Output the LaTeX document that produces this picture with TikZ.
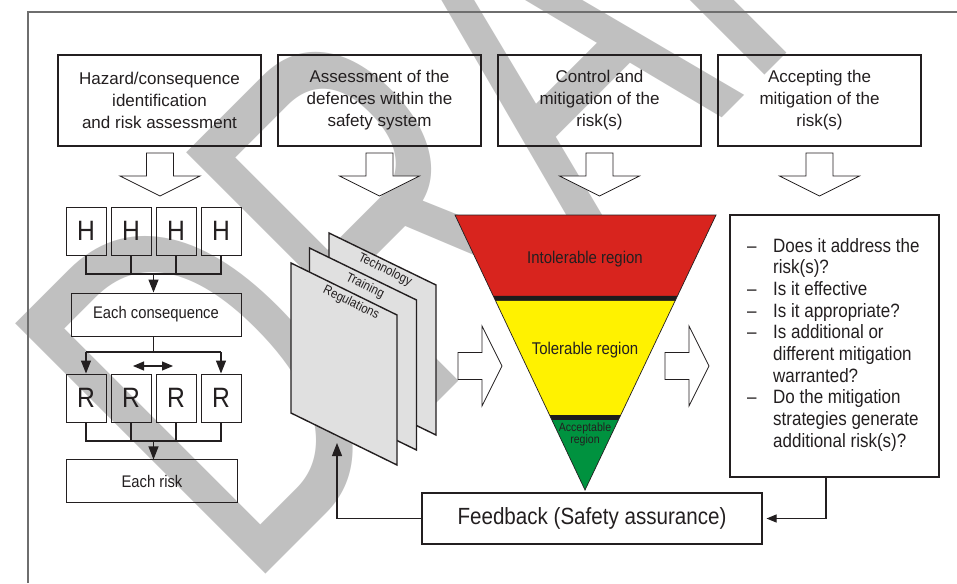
\documentclass[tikz,border=0pt]{standalone}
\usepackage{fontspec}
\newfontfamily\plainsf{Liberation Sans}
\newfontfamily\narrowsf{Liberation Sans}[FakeStretch=0.88]
\usetikzlibrary{arrows.meta,calc}
\definecolor{linec}{RGB}{35,31,32}
\definecolor{framec}{RGB}{110,110,110}
\definecolor{wmgray}{RGB}{192,192,192}
\definecolor{pagefill}{RGB}{224,224,224}
\definecolor{zonered}{RGB}{216,36,30}
\definecolor{zoneyellow}{RGB}{255,242,0}
\definecolor{zonegreen}{RGB}{0,146,63}
\definecolor{zonebar}{RGB}{30,28,28}
\tikzset{
  topbox/.style={draw=linec, line width=1.1pt, minimum width=203pt, minimum height=91pt,
    inner sep=0pt, align=center, text=linec, font=\plainsf\fontsize{17}{22}\selectfont},
  letterbox/.style={draw=linec, line width=1pt, minimum width=40pt, minimum height=48pt,
    inner sep=0pt, text=linec, font=\narrowsf\fontsize{28}{30}\selectfont},
  widebox/.style={draw=linec, line width=1pt, inner sep=0pt, text=linec,
    font=\narrowsf\fontsize{16.8}{20}\selectfont},
  blockarrow/.style={draw=linec, fill=white, line width=0.8pt},
  conn/.style={draw=linec, line width=1.1pt},
  tipa/.style={-{Triangle[length=13pt,width=10pt]}},
  tipsmall/.style={-{Triangle[length=10pt,width=8pt]}},
  swaptips/.style={{Triangle[length=11pt,width=9pt]}-{Triangle[length=11pt,width=9pt]}},
  pagesheet/.style={draw=linec, fill=pagefill, line width=1.4pt, line join=miter},
  pagelabel/.style={inner sep=0pt, rotate=-26, text=linec, font=\narrowsf\fontsize{13}{15}\selectfont},
  zonelabel/.style={inner sep=0pt, text=linec, align=center, font=\narrowsf\fontsize{17}{20}\selectfont},
  pics/blkdown/.style={code={
    \draw[blockarrow] (-13.5,0) -- (13.5,0) -- (13.5,23) -- (40,23) -- (0,43)
      -- (-40,23) -- (-13.5,23) -- cycle;}},
  pics/blkright/.style={code={
    \draw[blockarrow] (0,-13.5) -- (24,-13.5) -- (24,-40) -- (44,0) -- (24,40)
      -- (24,13.5) -- (0,13.5) -- cycle;}},
}
\begin{document}
\begin{tikzpicture}[x=1pt, y=-1pt]
\fill[white] (0,0) rectangle (957,583);
\useasboundingbox (0,0) rectangle (957,583);

% watermark behind everything
\begin{scope}[shift={(246.5,593.5)}, rotate=45, xscale=0.955, yscale=1.47]
  \node[anchor=base west, inner sep=0pt, text=wmgray, transform shape,
    font=\plainsf\fontsize{350}{350}\selectfont] (draftmark) at (0,0) {DRAFT};
\end{scope}

% outer frame
\draw[framec, line width=1.2pt] (28,583) -- (28,12) -- (957,12);

% four stage headings
\node[topbox] (hazard)    at (159.5,100.5) {Hazard/consequence\\identification\\and risk assessment};
\node[topbox] (defences)  at (379.5,100.5) {Assessment of the\\defences within the\\safety system};
\node[topbox] (control)   at (599.5,100.5) {Control and\\mitigation of the\\risk(s)};
\node[topbox] (accepting) at (819.5,100.5) {Accepting the\\mitigation of the\\risk(s)};

\pic at (160,153) {blkdown};
\pic at (379.5,153) {blkdown};
\pic at (599.5,153) {blkdown};
\pic at (819.5,153) {blkdown};

% hazards -> consequences -> risks
\node[letterbox] (h1) at (86,231) {H};
\node[letterbox] (h2) at (131,231) {H};
\node[letterbox] (h3) at (176,231) {H};
\node[letterbox] (h4) at (221,231) {H};
\node[widebox, minimum width=170pt, minimum height=43pt] (conseq) at (156,314.5) {Each consequence};
\node[letterbox] (r1) at (86,398) {R};
\node[letterbox] (r2) at (131,398) {R};
\node[letterbox] (r3) at (176,398) {R};
\node[letterbox] (r4) at (221,398) {R};
\node[widebox, minimum width=170.6pt, minimum height=42.7pt] (risk) at (152,481.3) {Each risk};

\coordinate (hbus) at (153.5,274);
\draw[conn] (h1.south) -- (h1.south |- hbus) -- (h4.south |- hbus) -- (h4.south);
\draw[conn] (h2.south) -- (h2.south |- hbus);
\draw[conn] (h3.south) -- (h3.south |- hbus);
\draw[conn, tipa] (hbus) -- (hbus |- conseq.north);

\coordinate (cbus) at (153.5,352);
\draw[conn] (cbus |- conseq.south) -- (cbus);
\draw[conn] (r1.north |- cbus) -- (r4.north |- cbus);
\draw[conn, tipa] (r1.north |- cbus) -- (r1.north);
\draw[conn, tipa] (r4.north |- cbus) -- (r4.north);
\coordinate (swapl) at (133,366);
\coordinate (swapr) at (173,366);
\draw[conn, swaptips] (swapl) -- (swapr);

\coordinate (rbus) at (153.5,441);
\draw[conn] (r1.south) -- (r1.south |- rbus) -- (r4.south |- rbus) -- (r4.south);
\draw[conn] (r2.south) -- (r2.south |- rbus);
\draw[conn] (r3.south) -- (r3.south |- rbus);
\draw[conn, tipa] (rbus) -- (rbus |- risk.north);

% layers of defences
\draw[pagesheet] (329,233) -- (436,285) -- (436,435) -- (329,383) -- cycle;
\draw[pagesheet] (309.5,248) -- (416.5,300) -- (416.5,450) -- (309.5,398) -- cycle;
\draw[pagesheet] (291,263) -- (397,315) -- (397,465) -- (291,413) -- cycle;
\node[pagelabel] (technology)  at (385,270) {Technology};
\node[pagelabel] (training)    at (365,286) {Training};
\node[pagelabel] (regulations) at (351,303) {Regulations};
\coordinate (pagefoot) at (337,443);

\pic at (458,366) {blkright};
\pic at (665,366) {blkright};

% risk triangle
\coordinate (tl) at (455,215);
\coordinate (tr) at (716,215);
\coordinate (tip) at (585,490);
\fill[zonered] (tl) -- (tr) -- ($(tr)!0.2945!(tip)$) -- ($(tl)!0.2945!(tip)$) -- cycle;
\fill[zonebar] ($(tl)!0.2945!(tip)$) -- ($(tr)!0.2945!(tip)$) -- ($(tr)!0.3127!(tip)$) -- ($(tl)!0.3127!(tip)$) -- cycle;
\fill[zoneyellow] ($(tl)!0.3127!(tip)$) -- ($(tr)!0.3127!(tip)$) -- ($(tr)!0.7273!(tip)$) -- ($(tl)!0.7273!(tip)$) -- cycle;
\fill[zonebar] ($(tl)!0.7273!(tip)$) -- ($(tr)!0.7273!(tip)$) -- ($(tr)!0.7455!(tip)$) -- ($(tl)!0.7455!(tip)$) -- cycle;
\fill[zonegreen] ($(tl)!0.7455!(tip)$) -- ($(tr)!0.7455!(tip)$) -- (tip) -- cycle;
\draw[linec, line width=0.7pt, line join=miter] (tl) -- (tr) -- (tip) -- cycle;
\node[zonelabel] (intolerable) at (585,259) {Intolerable region};
\node[zonelabel] (tolerable) at (585,350) {Tolerable region};
\node[zonelabel, font=\narrowsf\fontsize{12}{10}\selectfont] (acceptable) at (585,434) {Acceptable\\region};

% acceptance checklist
\node[draw=linec, line width=1.1pt, minimum width=209pt, minimum height=262pt, inner sep=0pt] (accept) at (834.5,346) {};
\node[anchor=base west, inner sep=0pt, text=linec, font=\narrowsf\fontsize{19.3}{21.7}\selectfont] (checklist) at (747,252)
  {\begin{tabular}[t]{@{}p{26pt}@{}l@{}}
   \textendash & Does it address the\\
               & risk(s)?\\
   \textendash & Is it effective\\
   \textendash & Is it appropriate?\\
   \textendash & Is additional or\\
               & different mitigation\\
               & warranted?\\
   \textendash & Do the mitigation\\
               & strategies generate\\
               & additional risk(s)?
   \end{tabular}};

% feedback loop
\node[draw=linec, line width=1.1pt, minimum width=340pt, minimum height=51pt, inner sep=0pt, text=linec,
  font=\narrowsf\fontsize{23.4}{28}\selectfont] (feedback) at (592,518.5) {Feedback (Safety assurance)};
\draw[conn, tipsmall] ($(accept.south)+(-8.5,0)$) |- ($(feedback.east)+(4,0)$);
\draw[conn, tipa] (feedback.west) -| (pagefoot);
\end{tikzpicture}
\end{document}
